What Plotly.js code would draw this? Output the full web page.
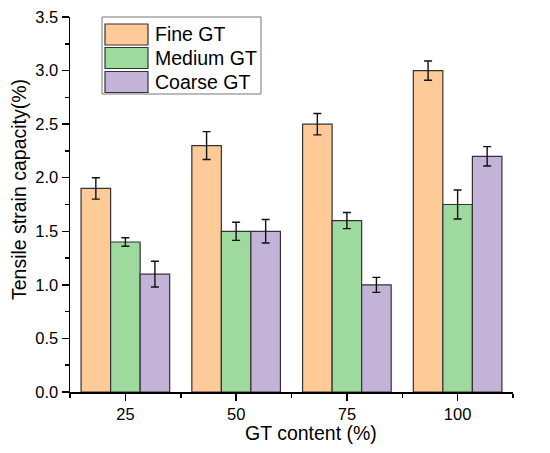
<!DOCTYPE html>
<html>
<head>
<meta charset="utf-8">
<script src="https://cdn.plot.ly/plotly-3.0.1.min.js"></script>
<style>html,body{margin:0;padding:0;background:#fff;}#chart{width:550px;height:453px;}</style>
</head>
<body>
<div id="chart"></div>
<script>
const categories = ["25", "50", "75", "100"];
const seriesNames = ["Fine GT", "Medium GT", "Coarse GT"];
const fineValues = [1.9, 2.3, 2.5, 3.0];
const fineErrors = [0.1, 0.13, 0.1, 0.09];
const mediumValues = [1.4, 1.5, 1.6, 1.75];
const mediumErrors = [0.04, 0.085, 0.075, 0.135];
const coarseValues = [1.1, 1.5, 1.0, 2.2];
const coarseErrors = [0.12, 0.11, 0.07, 0.09];
const colors = ["#FDCA98", "#9ED99E", "#C3B3D8"];
const xTitle = "GT content (%)";
const yTitle = "Tensile strain capacity(%)";

const xIdx = categories.map((c, i) => i);
const values = [fineValues, mediumValues, coarseValues];
const errors = [fineErrors, mediumErrors, coarseErrors];

const traces = values.map((v, k) => ({
  type: "bar",
  name: seriesNames[k],
  x: xIdx,
  y: v,
  marker: {color: colors[k], line: {color: "#333333", width: 1.2}},
  error_y: {type: "data", array: errors[k], visible: true, color: "#111111", thickness: 1.4, width: 4},
  showlegend: false
}));

const font = "Arial, 'Liberation Sans', sans-serif";

const shapes = [];
const annotations = [];
const pxX = p => (p - 70) / 443;
const pxY = p => (392 - p) / 375;
shapes.push({type: "rect", xref: "paper", yref: "paper", x0: pxX(102), x1: pxX(261), y0: pxY(94), y1: pxY(17),
  line: {color: "#777777", width: 1}, fillcolor: "#ffffff"});
const rowTops = [24, 47.5, 71.5];
seriesNames.forEach((n, k) => {
  shapes.push({type: "rect", xref: "paper", yref: "paper", x0: pxX(105), x1: pxX(148),
    y0: pxY(rowTops[k] + 21), y1: pxY(rowTops[k]),
    line: {color: "#333333", width: 1.2}, fillcolor: colors[k]});
  annotations.push({xref: "paper", yref: "paper", x: pxX(153), y: pxY(rowTops[k] + 10.5),
    xanchor: "left", yanchor: "middle", text: n, showarrow: false,
    font: {family: font, size: 19.5, color: "#000"}});
});
// axis titles
annotations.push({xref: "paper", yref: "paper", x: pxX(19), y: pxY(190), xanchor: "center", yanchor: "middle",
  textangle: -90, text: yTitle, showarrow: false, font: {family: font, size: 19.5, color: "#000"}});
annotations.push({xref: "paper", yref: "paper", x: pxX(311), y: pxY(421), xanchor: "center", yanchor: "top",
  text: xTitle, showarrow: false, font: {family: font, size: 19.5, color: "#000"}, borderpad: 0});

const layout = {
  width: 550, height: 453,
  margin: {l: 70, r: 37, t: 17, b: 61},
  paper_bgcolor: "#fff", plot_bgcolor: "#fff",
  barmode: "group", bargap: 0.2, bargroupgap: 0,
  font: {family: font, color: "#000"},
  xaxis: {
    type: "linear", range: [-0.5, 3.5],
    tickvals: xIdx, ticktext: categories,
    ticks: "outside", ticklen: 7, tickwidth: 1.5, tickcolor: "#000",
    minor: {tick0: 0.5, dtick: 1, ticks: "outside", ticklen: 4, tickwidth: 1.5, tickcolor: "#000"},
    showline: true, linecolor: "#000", linewidth: 1.5,
    showgrid: false, zeroline: false,
    tickfont: {family: font, size: 16.5, color: "#000"}
  },
  yaxis: {
    range: [0, 3.5], dtick: 0.5, tick0: 0, tickformat: ".1f",
    ticks: "outside", ticklen: 7, tickwidth: 1.5, tickcolor: "#000",
    minor: {dtick: 0.25, ticks: "outside", ticklen: 4, tickwidth: 1.5, tickcolor: "#000"},
    showline: true, linecolor: "#000", linewidth: 1.5,
    showgrid: false, zeroline: false,
    tickfont: {family: font, size: 16.5, color: "#000"}
  },
  shapes: shapes,
  annotations: annotations
};

Plotly.newPlot("chart", traces, layout, {displayModeBar: false, staticPlot: true});
</script>
</body>
</html>
